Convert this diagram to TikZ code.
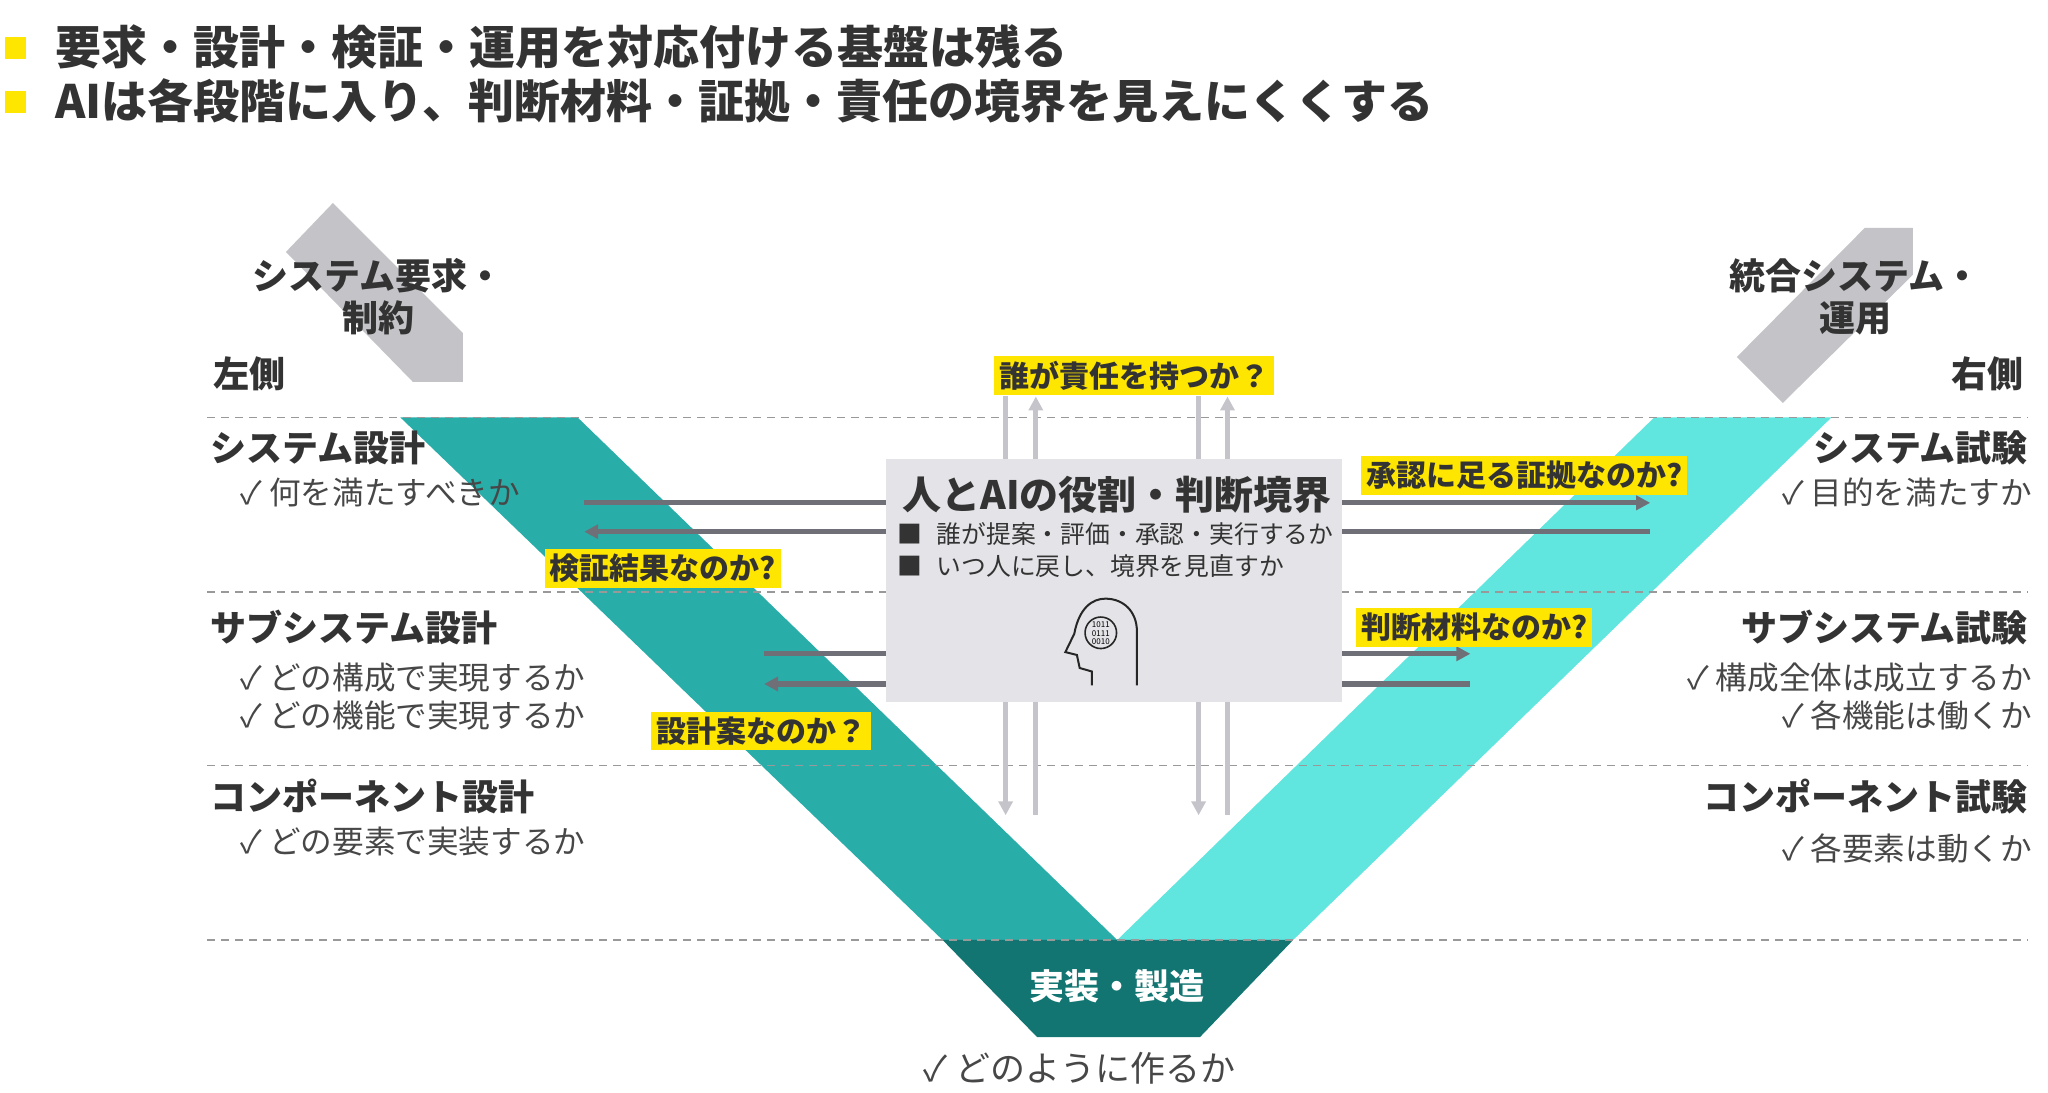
\documentclass[tikz,border=0pt]{standalone}
\usepackage{fontspec}
\setmainfont{Noto Sans CJK JP}
\usetikzlibrary{arrows.meta}
\definecolor{txt}{HTML}{333333}
\definecolor{ylw}{HTML}{FFE600}
\definecolor{dteal}{HTML}{29ADA8}
\definecolor{lteal}{HTML}{61E6DF}
\definecolor{bteal}{HTML}{127572}
\definecolor{agrey}{HTML}{C3C3C8}
\definecolor{hgrey}{HTML}{6F6F78}
\definecolor{vgrey}{HTML}{C4C4CA}
\definecolor{boxg}{HTML}{E4E4E8}
\begin{document}
\begin{tikzpicture}[x=0.6565pt,y=-0.6565pt,
  head/.style={font=\fontsize{23}{26}\selectfont\bfseries,text=txt,anchor=west,inner sep=0},
  lvl/.style={font=\fontsize{18}{21}\selectfont\bfseries,text=txt,inner sep=0},
  chk/.style={font=\fontsize{15.8}{18}\selectfont,text=txt!90,inner sep=0},
  yl/.style={fill=ylw,font=\fontsize{15}{17}\selectfont\bfseries,text=txt,inner sep=2.5pt},
  sep/.style={draw=gray!80,line width=0.6pt,dash pattern=on 4pt off 3pt},
  hl/.style={draw=hgrey,line width=2.6pt},
  vl/.style={draw=vgrey,line width=2.6pt},
  tip/.style={-{Triangle[length=7pt,width=7pt]}}]
\useasboundingbox (0,0) rectangle (1560,832.5);
% header
\fill[ylw] (4,28) rectangle (20,45);
\fill[ylw] (4,69) rectangle (20,86);
\node[head] (h1) at (42,36) {要求・設計・検証・運用を対応付ける基盤は残る};
\node[head] (h2) at (42,77) {AIは各段階に入り、判断材料・証拠・責任の境界を見えにくくする};
% grey arrows
\fill[agrey] (253.6,154.6) -- (217.8,191.9) -- (314.5,290.9) -- (352.6,290.9) -- (352.6,253.6) -- cycle;
\fill[agrey] (1420.4,173.6) -- (1457,173.6) -- (1457,209.4) -- (1358,306.9) -- (1323,271.9) -- cycle;
\node[lvl,align=center] (req) at (288,226) {システム要求・\\制約};
\node[lvl,align=center] (ops) at (1413,226) {統合システム・\\運用};
\node[lvl] (ls) at (190,285) {左側};
\node[lvl] (rs) at (1514,285) {右側};
% V bands
\fill[dteal] (305,318) -- (440,318) -- (851,716) -- (718,716) -- cycle;
\fill[lteal] (1260,318) -- (1395,318) -- (985,716) -- (851,716) -- cycle;
\fill[bteal] (718,716) -- (985,716) -- (914,790) -- (790,790) -- cycle;
\node[font=\fontsize{17.5}{20}\selectfont\bfseries,text=white] (impl) at (851,751) {実装・製造};
\node[chk,font=\fontsize{17.5}{20}\selectfont] (implc) at (822,814) {✓ どのように作るか};
% dashed lines
\foreach \y in {318,451,583,716} \draw[sep] (158,\y) -- (1545,\y);
% left labels
\node[lvl,anchor=west] (l1) at (160,341) {システム設計};
\node[chk,anchor=west] (l1a) at (183,375) {✓ 何を満たすべきか};
\node[lvl,anchor=west] (l2) at (160,478) {サブシステム設計};
\node[chk,anchor=west] (l2a) at (183,516) {✓ どの構成で実現するか};
\node[chk,anchor=west] (l2b) at (183,545) {✓ どの機能で実現するか};
\node[lvl,anchor=west] (l3) at (160,607) {コンポーネント設計};
\node[chk,anchor=west] (l3a) at (183,641) {✓ どの要素で実装するか};
% right labels
\node[lvl,anchor=east] (r1) at (1545,341) {システム試験};
\node[chk,anchor=east] (r1a) at (1548,375) {✓ 目的を満たすか};
\node[lvl,anchor=east] (r2) at (1545,478) {サブシステム試験};
\node[chk,anchor=east] (r2a) at (1548,516) {✓ 構成全体は成立するか};
\node[chk,anchor=east] (r2b) at (1548,545) {✓ 各機能は働くか};
\node[lvl,anchor=east] (r3) at (1545,607) {コンポーネント試験};
\node[chk,anchor=east] (r3a) at (1548,646) {✓ 各要素は動くか};
% vertical arrows
\coordinate (vt1) at (766,302); \coordinate (vt2) at (789,302);
\coordinate (vt3) at (913,302); \coordinate (vt4) at (935,302);
\coordinate (vb1) at (766,621); \coordinate (vb2) at (789,621);
\coordinate (vb3) at (913,621); \coordinate (vb4) at (935,621);
\draw[vl] (vt1) -- (vb1|-0,352);
\draw[vl,tip] (vb2|-0,352) -- (vt2);
\draw[vl] (vt3) -- (vb3|-0,352);
\draw[vl,tip] (vb4|-0,352) -- (vt4);
\draw[vl,tip] (vb1|-0,534) -- (vb1);
\draw[vl] (vb2|-0,534) -- (vb2);
\draw[vl,tip] (vb3|-0,534) -- (vb3);
\draw[vl] (vb4|-0,534) -- (vb4);
% center box
\node[fill=boxg,minimum width=347*0.6565pt,minimum height=185*0.6565pt,inner sep=0] (box) at (848.5,442.5) {};
\node[font=\fontsize{19.5}{22}\selectfont\bfseries,text=txt,inner sep=0] (bt) at (851,377) {人とAIの役割・判断境界};
\node[font=\fontsize{12.4}{14}\selectfont,text=txt,anchor=west,inner sep=0,align=left] (bb1) at (683,407) {■\hspace{0.6em}誰が提案・評価・承認・実行するか};
\node[font=\fontsize{12.4}{14}\selectfont,text=txt,anchor=west,inner sep=0,align=left] (bb2) at (683,431) {■\hspace{0.6em}いつ人に戻し、境界を見直すか};
% head icon
\draw[black!85,line width=1pt] (831.7,522) -- (831.7,511.5) -- (822.4,508.8) -- (820.3,498.9) -- (811.5,496.7) -- (818.3,482.7)
  .. controls (822,463) and (832,456) .. (842,456) .. controls (856,456) and (866,466) .. (866,481) -- (866,522);
\draw[black!85,line width=0.8pt] (838.5,482) circle (12);
\node[font=\fontsize{4}{4.3}\selectfont,align=center,inner sep=0] (bin) at (838.5,482.5) {1011\\0111\\0010};
% horizontal arrows
\coordinate (hl1) at (445,383); \coordinate (hl2) at (445,405);
\coordinate (hr1) at (1257,383); \coordinate (hr2) at (1257,405);
\coordinate (hl3) at (582,498); \coordinate (hl4) at (582,521);
\coordinate (hr3) at (1120,498); \coordinate (hr4) at (1120,521);
\draw[hl] (box.west|-hl1) -- (hl1);
\draw[hl,tip] (box.west|-hl2) -- (hl2);
\draw[hl,tip] (box.east|-hr1) -- (hr1);
\draw[hl] (box.east|-hr2) -- (hr2);
\draw[hl] (box.west|-hl3) -- (hl3);
\draw[hl,tip] (box.west|-hl4) -- (hl4);
\draw[hl,tip] (box.east|-hr3) -- (hr3);
\draw[hl] (box.east|-hr4) -- (hr4);
% yellow labels
\node[yl] (q1) at (864,286) {誰が責任を持つか？};
\node[yl] (q2) at (1161,362) {承認に足る証拠なのか?};
\node[yl] (q3) at (505,433) {検証結果なのか?};
\node[yl] (q4) at (1123,478) {判断材料なのか?};
\node[yl] (q5) at (580,557) {設計案なのか？};
\end{tikzpicture}
\end{document}
